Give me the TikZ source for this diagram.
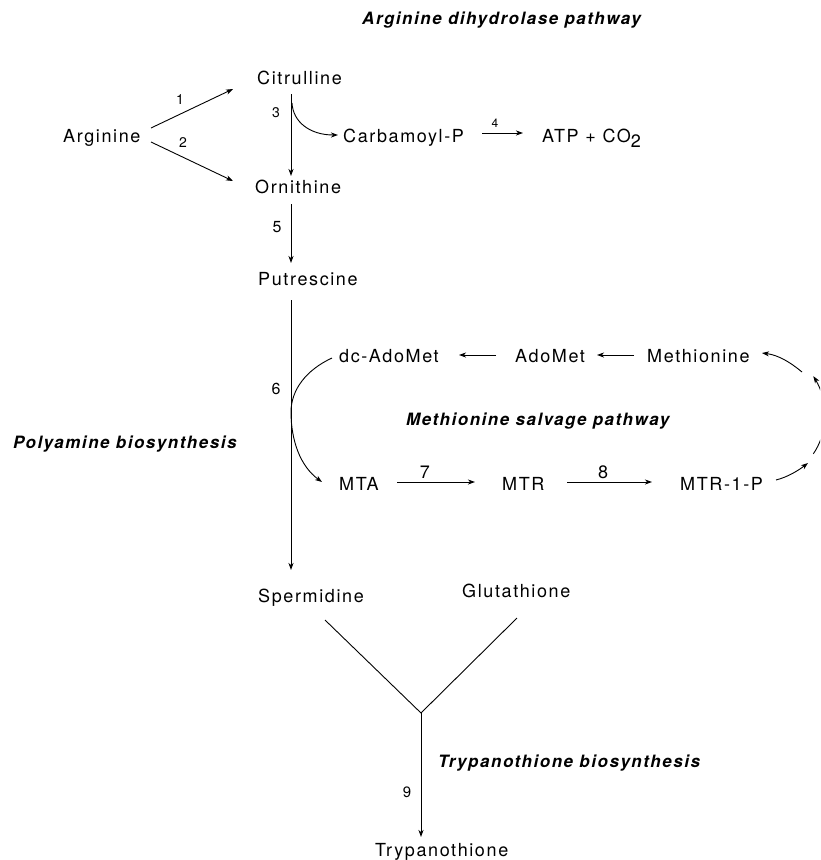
\documentclass[tikz,border=0pt]{standalone}
\usepackage{fontspec}
\setmainfont{TeX Gyre Heros}[LetterSpace=9]
\usetikzlibrary{arrows.meta}
\tikzset{
  mol/.style={anchor=base west, inner sep=0pt, font=\fontsize{18}{20}\selectfont},
  ttl/.style={anchor=base west, inner sep=0pt, font=\fontsize{17}{20}\selectfont\bfseries\itshape},
  num/.style={inner sep=0pt, font=\fontsize{#1}{#1}\selectfont},
  conn/.style={line width=0.9pt},
  arr/.style={conn, -{Stealth[length=7pt,width=5pt,inset=2pt]}}
}
\begin{document}
\begin{tikzpicture}[x=1pt,y=-1pt]
\useasboundingbox (0,0) rectangle (820,860);
\clip (0,0) rectangle (820,860);
% titles
\node[ttl] (t1) at (362,24) {Arginine dihydrolase pathway};
\node[ttl] (t2) at (406,425) {Methionine salvage pathway};
\node[ttl] (t3) at (13,448) {Polyamine biosynthesis};
\node[ttl] (t4) at (438,767) {Trypanothione biosynthesis};
% molecules
\node[mol] (cit) at (257,84) {Citrulline};
\node[mol] (arg) at (63,142) {Arginine};
\node[mol] (carb) at (343,142) {Carbamoyl-P};
\node[mol] (atp) at (542,142) {ATP + CO\raisebox{-5pt}{2}};
\node[mol] (orn) at (255,193) {Ornithine};
\node[mol] (put) at (258,285) {Putrescine};
\node[mol] (dcado) at (339,362) {dc-AdoMet};
\node[mol] (ado) at (515,362) {AdoMet};
\node[mol] (met) at (647,362) {Methionine};
\node[mol] (mta) at (339,490) {MTA};
\node[mol] (mtr) at (502,490) {MTR};
\node[mol] (mtrp) at (680,490) {MTR-1-P};
\node[mol] (spd) at (258,602) {Spermidine};
\node[mol] (glu) at (462,597) {Glutathione};
\node[mol] (try) at (375,856) {Trypanothione};
% enzyme numbers
\node[num=14] (n1) at (180,100) {1};
\node[num=14] (n2) at (183,143) {2};
\node[num=14] (n3) at (276,113) {3};
\node[num=12] (n4) at (495,123) {4};
\node[num=16] (n5) at (277,227) {5};
\node[num=16] (n6) at (276,389) {6};
\node[num=18] (n7) at (425,472) {7};
\node[num=18] (n8) at (603,472) {8};
\node[num=15] (n9) at (407,792) {9};
% connector end points
\coordinate (a1s) at (151,128); \coordinate (a1e) at (233,89);
\coordinate (a2s) at (151,142); \coordinate (a2e) at (233,181);
\coordinate (a3s) at (291,94);  \coordinate (a3e) at (291,176);
\coordinate (c3s) at (292,103); \coordinate (c3e) at (338,135);
\coordinate (a4s) at (482,133); \coordinate (a4e) at (523,133);
\coordinate (a5s) at (291,204); \coordinate (a5e) at (291,263);
\coordinate (a6s) at (291,300); \coordinate (a6e) at (291,570);
\coordinate (c6s) at (332,358); \coordinate (c6m) at (291,412); \coordinate (c6e) at (322,482);
\coordinate (m1s) at (496,355); \coordinate (m1e) at (459,355);
\coordinate (m2s) at (634,355); \coordinate (m2e) at (597,355);
\coordinate (a7s) at (397,482); \coordinate (a7e) at (475,482);
\coordinate (a8s) at (567,482); \coordinate (a8e) at (652,482);
\coordinate (ys1) at (325,620); \coordinate (yj) at (421,713); \coordinate (ys2) at (517,618);
\coordinate (a9e) at (421,837);
\coordinate (r1s) at (776,480); \coordinate (r3e) at (762,353);
% connectors
\draw[arr] (a1s) -- (a1e);
\draw[arr] (a2s) -- (a2e);
\draw[arr] (a3s) -- (a3e);
\draw[arr] (c3s) .. controls (293,122) and (310,135) .. (c3e);
\draw[arr] (a4s) -- (a4e);
\draw[arr] (a5s) -- (a5e);
\draw[arr] (a6s) -- (a6e);
\draw[arr] (c6s) .. controls (306,370) and (291,390) .. (c6m) .. controls (291,440) and (300,466) .. (c6e);
\draw[arr] (m1s) -- (m1e);
\draw[arr] (m2s) -- (m2e);
\draw[arr] (a7s) -- (a7e);
\draw[arr] (a8s) -- (a8e);
\draw[conn] (ys1) -- (yj) -- (ys2);
\draw[arr] (yj) -- (a9e);
% broken arc of the salvage pathway
\draw[arr] (r1s) .. controls (788,477) and (799,470) .. (808,463);
\draw[arr] plot[domain=38:-38, samples=40, smooth, variable=\t] ({770+55*cos(\t)},{415+63*sin(\t)});
\draw[arr] (802,372) .. controls (790,362) and (778,355) .. (r3e);
\end{tikzpicture}
\end{document}
